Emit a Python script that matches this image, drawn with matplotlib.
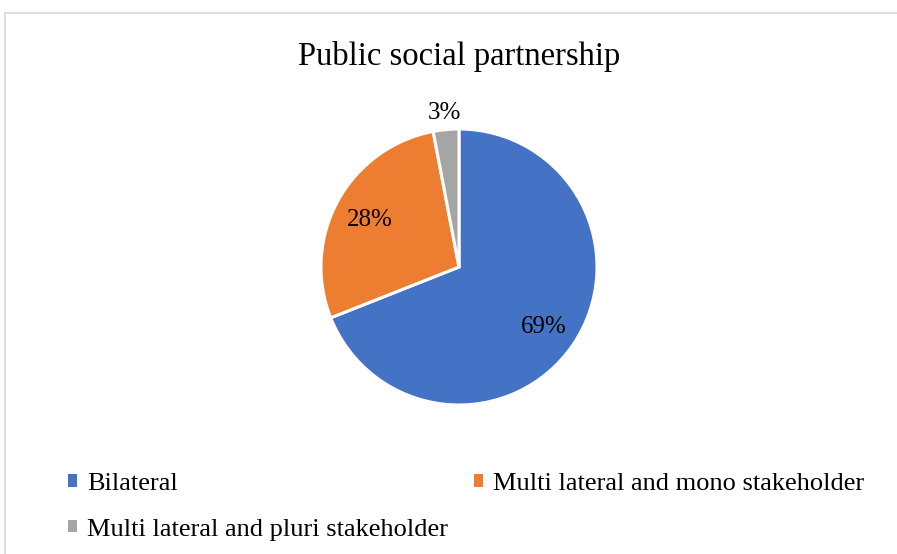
#!/usr/bin/env python3
# -*- coding: utf-8 -*-
import matplotlib

matplotlib.use("Agg")
import matplotlib.pyplot as plt
import numpy as np
from matplotlib.patches import Rectangle

title = "Public social partnership"
categories = [
    "Bilateral",
    "Multi lateral and mono stakeholder",
    "Multi lateral and pluri stakeholder",
]
shares = [69, 28, 3]
colors = ["#4472C4", "#ED7D31", "#A5A5A5"]


def main() -> int:
    plt.rcParams["font.family"] = ["Liberation Serif", "DejaVu Serif"]

    W, H = 897, 554
    fig = plt.figure(figsize=(W / 100, H / 100), dpi=100)

    # chart area frame (left and top edges visible)
    fig.patches.append(
        Rectangle((5 / W, -0.1), 1.2, (H - 13) / H + 0.1, transform=fig.transFigure,
                  fill=False, edgecolor="#D9D9D9", linewidth=1.2)
    )

    cx, cy, r = 459, 267, 138
    ax = fig.add_axes([(cx - r) / W, (H - cy - r) / H, 2 * r / W, 2 * r / H])
    wedges, _ = ax.pie(
        shares,
        colors=colors,
        startangle=90,
        counterclock=False,
        radius=1.0,
        wedgeprops=dict(edgecolor="white", linewidth=2.2),
    )
    ax.set_xlim(-1, 1)
    ax.set_ylim(-1, 1)
    ax.set_aspect("equal")
    ax.axis("off")

    # percentage labels; the thin slice gets its label outside the pie
    for w, val in zip(wedges, shares):
        mid = np.deg2rad((w.theta1 + w.theta2) / 2)
        dist = 0.74 if val >= 10 else 1.14
        ax.text(dist * np.cos(mid), dist * np.sin(mid), f"{val}%",
                ha="center", va="center_baseline", fontsize=18, color="black",
                clip_on=False)

    fig.text(cx / W, 1 - 56 / H, title, ha="center", va="center", fontsize=23.5)

    # legend laid out row-wise: two per row
    order = [0, 2, 1]
    leg = fig.legend(
        [wedges[i] for i in order],
        [categories[i] for i in order],
        ncol=2,
        loc="upper left",
        bbox_to_anchor=(68 / W, 1 - 473 / H),
        frameon=False,
        fontsize=19,
        borderpad=0,
        borderaxespad=0,
        handlelength=0.34,
        handleheight=0.34,
        handletextpad=0.38,
        columnspacing=1.0,
        labelspacing=0.9,
    )
    for h in leg.legend_handles:
        h.set_edgecolor("none")

    fig.savefig("out.png", dpi=100, facecolor="white")
    plt.close(fig)
    return 0


if __name__ == "__main__":
    raise SystemExit(main())
